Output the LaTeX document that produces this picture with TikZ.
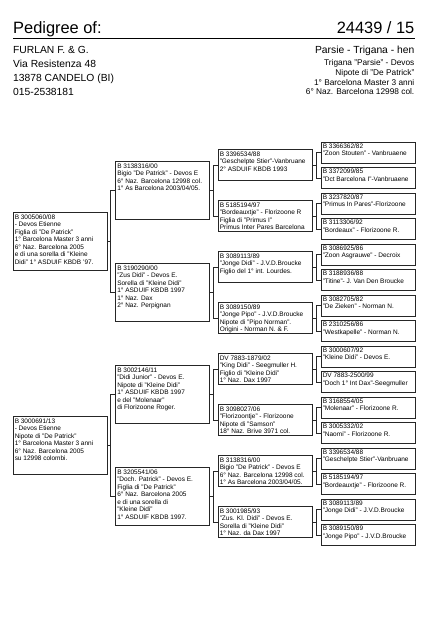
\documentclass[tikz,border=0pt]{standalone}
\usepackage{fontspec}
\setmainfont{Liberation Sans}
\tikzset{
  pbox/.style={draw=black!85, line width=0.9pt, rectangle, minimum width=94pt, inner sep=0pt},
  ptxt/.style={anchor=north west, inner sep=0pt, align=left, font=\fontsize{6.5}{7.5}\selectfont},
  conn/.style={draw=black!85, line width=0.7pt},
  hdrbig/.style={inner sep=0pt, font=\fontsize{16.4}{18}\selectfont},
  hdrmid/.style={inner sep=0pt, font=\fontsize{10.3}{12}\selectfont},
  hdrsmall/.style={inner sep=0pt, font=\fontsize{8.3}{10}\selectfont}
}
\newcommand\pedbox[5]{%
  \node[pbox, minimum height=#4] (#1) at (#2+47,#3) {};
  \node[ptxt] (#1t) at ([xshift=2pt,yshift=-1.8pt]#1.north west) {#5};
}
\newcommand\pedfork[3]{%
  \draw[conn] (#2.west) -- ++(-4.5,0) |- (#1.east);
  \draw[conn] (#3.west) -- ++(-4.5,0) |- (#1.east);
}
\begin{document}
\begin{tikzpicture}[x=1pt,y=-1pt]
\useasboundingbox[fill=white] (0,0) rectangle (439,622);
% header
\node[hdrbig, anchor=base west] (title) at (13,33.3) {Pedigree of:};
\node[hdrbig, anchor=base east] (ring) at (414.5,33.3) {24439 / 15};
\coordinate (rulel) at (13,38);
\coordinate (ruler) at (414.5,38);
\draw[line width=0.9pt] (rulel) -- (ruler);
\node[hdrmid, anchor=base west] (own1) at (13,53) {FURLAN F. \& G.};
\node[hdrmid, anchor=base west] (own2) at (13,67) {Via Resistenza 48};
\node[hdrmid, anchor=base west] (own3) at (13,81) {13878 CANDELO (BI)};
\node[hdrmid, anchor=base west] (own4) at (13,95) {015-2538181};
\node[hdrmid, anchor=base east] (bird) at (414.5,53.7) {Parsie - Trigana - hen};
\node[hdrsmall, anchor=base east] (bd1) at (414.5,65.7) {Trigana "Parsie" - Devos};
\node[hdrsmall, anchor=base east] (bd2) at (414.5,75.2) {Nipote di "De Patrick"};
\node[hdrsmall, anchor=base east] (bd3) at (414.5,85) {1° Barcelona Master 3 anni};
\node[hdrsmall, anchor=base east] (bd4) at (414.5,94.8) {6° Naz. Barcelona 12998 col.};
% generation 1
\pedbox{a1}{13}{241.75}{58}{B 3005060/08\\- Devos Etienne\\Figlia di "De Patrick"\\1° Barcelona Master 3 anni\\6° Naz. Barcelona 2005\\e di una sorella di "Kleine\\Didi" 1° ASDUIF KBDB '97.}
\pedbox{a2}{13}{445.75}{58}{B 3000691/13\\- Devos Etienne\\Nipote di "De Patrick"\\1° Barcelona Master 3 anni\\6° Naz. Barcelona 2005\\su 12998 colombi.}
% generation 2
\pedbox{b1}{115.5}{190.75}{58}{B 3138316/00\\Bigio "De Patrick" - Devos E\\6° Naz. Barcelona 12998 col.\\1° As Barcelona 2003/04/05.}
\pedbox{b2}{115.5}{292.75}{58}{B 3190290/00\\"Zus Didi" - Devos E.\\Sorella di "Kleine Didi"\\1° ASDUIF KBDB 1997\\1° Naz. Dax\\2° Naz. Perpignan}
\pedbox{b3}{115.5}{394.75}{58}{B 3002146/11\\"Didi Junior" - Devos E.\\Nipote di "Kleine Didi"\\1° ASDUIF KBDB 1997\\e del "Molenaar"\\di Florizoone Roger.}
\pedbox{b4}{115.5}{496.75}{58}{B 3205541/06\\"Doch. Patrick" - Devos E.\\Figlia di "De Patrick"\\6° Naz. Barcelona 2005\\e di una sorella di\\"Kleine Didi"\\1° ASDUIF KBDB 1997.}
% generation 3
\pedbox{c1}{218}{165.25}{31}{B 3396534/88\\"Geschelpte Stier"-Vanbruane\\2° ASDUIF KBDB 1993}
\pedbox{c2}{218}{216.25}{31}{B 5185194/97\\"Bordeauxtje" - Florizoone R\\Figlia di "Primus I"\\Primus Inter Pares Barcelona}
\pedbox{c3}{218}{267.25}{31}{B 3089113/89\\"Jonge Didi" - J.V.D.Broucke\\Figlio del 1° int. Lourdes.}
\pedbox{c4}{218}{318.25}{31}{B 3089150/89\\"Jonge Pipo" - J.V.D.Broucke\\Nipote di "Pipo Norman".\\Origini - Norman N. \& F.}
\pedbox{c5}{218}{369.25}{31}{DV 7883-1879/02\\"King Didi" - Seegmuller H.\\Figlio di "Kleine Didi"\\1° Naz. Dax 1997}
\pedbox{c6}{218}{420.25}{31}{B 3098027/06\\"Florizoontje" - Florizoone\\Nipote di "Samson"\\18° Naz. Brive 3971 col.}
\pedbox{c7}{218}{471.25}{31}{B 3138316/00\\Bigio "De Patrick" - Devos E\\6° Naz. Barcelona 12998 col.\\1° As Barcelona 2003/04/05.}
\pedbox{c8}{218}{522.25}{31}{B 3001985/93\\"Zus. Kl. Didi" - Devos E.\\Sorella di "Kleine Didi"\\1° Naz. da Dax 1997}
% generation 4
\pedbox{d1}{321}{152.5}{21}{B 3366362/82\\"Zoon Stouten" - Vanbruaene}
\pedbox{d2}{321}{178}{21}{B 3372099/85\\"Dct Barcelona I"-Vanbruaene}
\pedbox{d3}{321}{203.5}{21}{B 3237820/87\\"Primus In Pares"-Florizoone}
\pedbox{d4}{321}{229}{21}{B 3113306/92\\"Bordeaux" - Florizoone R.}
\pedbox{d5}{321}{254.5}{21}{B 3086925/86\\"Zoon Asgrauwe" - Decroix}
\pedbox{d6}{321}{280}{21}{B 3188936/88\\"Titine"- J. Van Den Broucke}
\pedbox{d7}{321}{305.5}{21}{B 3082705/82\\"De Zieken" - Norman N.}
\pedbox{d8}{321}{331}{21}{B 2310256/86\\"Westkapelle" - Norman N.}
\pedbox{d9}{321}{356.5}{21}{B 3000607/92\\"Kleine Didi" - Devos E.}
\pedbox{d10}{321}{382}{21}{DV 7883-2500/99\\"Doch 1° Int Dax"-Seegmuller}
\pedbox{d11}{321}{407.5}{21}{B 3168554/05\\"Molenaar" - Florizoone R.}
\pedbox{d12}{321}{433}{21}{B 3005332/02\\"Naomi" - Florizoone R.}
\pedbox{d13}{321}{458.5}{21}{B 3396534/88\\"Geschelpte Stier"-Vanbruane}
\pedbox{d14}{321}{484}{21}{B 5185194/97\\"Bordeauxtje" - Florizoone R.}
\pedbox{d15}{321}{509.5}{21}{B 3089113/89\\"Jonge Didi" - J.V.D.Broucke}
\pedbox{d16}{321}{535}{21}{B 3089150/89\\"Jonge Pipo" - J.V.D.Broucke}
% connectors
\pedfork{a1}{b1}{b2}
\pedfork{a2}{b3}{b4}
\pedfork{b1}{c1}{c2}
\pedfork{b2}{c3}{c4}
\pedfork{b3}{c5}{c6}
\pedfork{b4}{c7}{c8}
\pedfork{c1}{d1}{d2}
\pedfork{c2}{d3}{d4}
\pedfork{c3}{d5}{d6}
\pedfork{c4}{d7}{d8}
\pedfork{c5}{d9}{d10}
\pedfork{c6}{d11}{d12}
\pedfork{c7}{d13}{d14}
\pedfork{c8}{d15}{d16}
\end{tikzpicture}
\end{document}
